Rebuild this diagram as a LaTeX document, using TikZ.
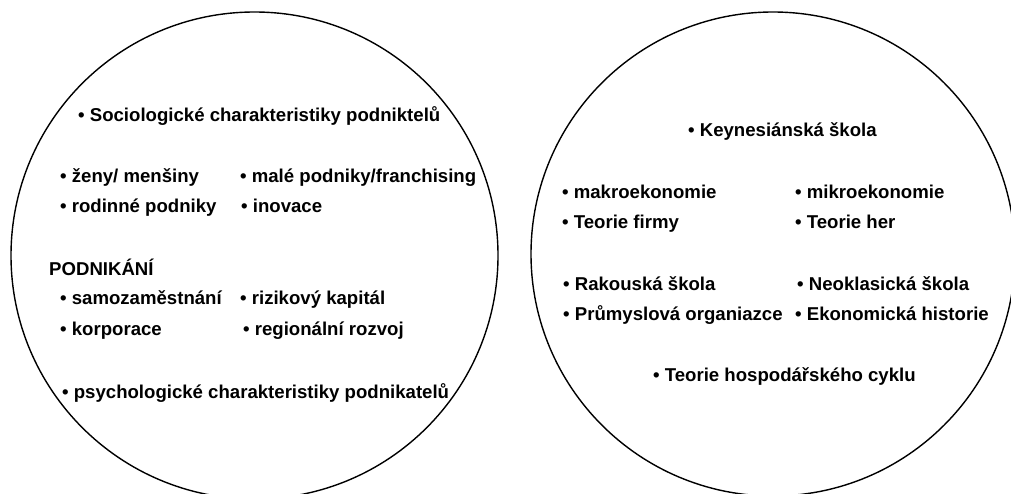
\documentclass[tikz,border=0pt]{standalone}
\usepackage{fontspec}
\setmainfont{Liberation Sans}
\begin{document}
\begin{tikzpicture}[x=1pt,y=-1pt,
  lbl/.style={anchor=base west,inner sep=0pt,font=\fontsize{18.6}{22}\selectfont\bfseries},
  ring/.style={draw=black,line width=1.4pt,circle,inner sep=0pt,minimum size=#1}]
\useasboundingbox (0,0) rectangle (1011,494);
\clip (0,0) rectangle (1011,494);
\node[ring=487pt] (L) at (254.5,255.5) {};
\node[ring=484pt] (R) at (773,254) {};
% left circle
\node[lbl] (l1) at (78,122) {• Sociologické charakteristiky podniktelů};
\node[lbl] (l2) at (60,183) {• ženy/ menšiny};
\node[lbl] (l3) at (240,183) {• malé podniky/franchising};
\node[lbl] (l4) at (60,213) {• rodinné podniky};
\node[lbl] (l5) at (241,213) {• inovace};
\node[lbl] (l6) at (49,275) {PODNIKÁNÍ};
\node[lbl] (l7) at (60,304) {• samozaměstnání};
\node[lbl] (l8) at (240,304) {• rizikový kapitál};
\node[lbl] (l9) at (60,335) {• korporace};
\node[lbl] (l10) at (243,335) {• regionální rozvoj};
\node[lbl] (l11) at (62,398) {• psychologické charakteristiky podnikatelů};
% right circle
\node[lbl] (r1) at (688,137) {• Keynesiánská škola};
\node[lbl] (r2) at (562,199) {• makroekonomie};
\node[lbl] (r3) at (795,199) {• mikroekonomie};
\node[lbl] (r4) at (562,229) {• Teorie firmy};
\node[lbl] (r5) at (795,229) {• Teorie her};
\node[lbl] (r6) at (563,290) {• Rakouská škola};
\node[lbl] (r7) at (797,290) {• Neoklasická škola};
\node[lbl] (r8) at (563,320) {• Průmyslová organiazce};
\node[lbl] (r9) at (795,320) {• Ekonomická historie};
\node[lbl] (r10) at (653,381) {• Teorie hospodářského cyklu};
\end{tikzpicture}
\end{document}
